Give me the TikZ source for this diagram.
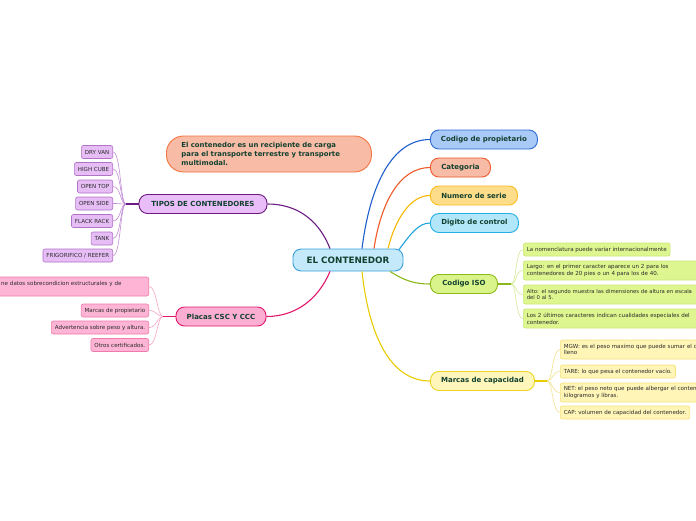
\documentclass[tikz,border=0pt]{standalone}
\usepackage{fontspec}
\setmainfont{DejaVu Sans}
\usetikzlibrary{calc}
\definecolor{tgreen}{HTML}{12402F}
\definecolor{leaftext}{HTML}{2A2A2A}
\definecolor{cenF}{HTML}{C3E9FA}\definecolor{cenD}{HTML}{3A9FD9}
\definecolor{tipF}{HTML}{E9BDF7}\definecolor{tipD}{HTML}{6B1A82}\definecolor{tipL}{HTML}{C28FD4}\definecolor{tipLF}{HTML}{E6BDF5}\definecolor{tipLD}{HTML}{B173C6}
\definecolor{plaF}{HTML}{FBAED1}\definecolor{plaD}{HTML}{E2176B}\definecolor{plaLF}{HTML}{FDB4D5}\definecolor{plaLD}{HTML}{F07AAA}\definecolor{plaL}{HTML}{F5A3C6}
\definecolor{notF}{HTML}{F8BCA6}\definecolor{notD}{HTML}{F4733E}
\definecolor{proF}{HTML}{A9C9F7}\definecolor{proD}{HTML}{2C6BD1}\definecolor{proC}{HTML}{1E5FCC}
\definecolor{catF}{HTML}{F8BBA6}\definecolor{catD}{HTML}{EF5A2C}\definecolor{catC}{HTML}{F05A28}
\definecolor{numF}{HTML}{FEDD8A}\definecolor{numD}{HTML}{F8BD1C}\definecolor{numC}{HTML}{F6B800}
\definecolor{digF}{HTML}{B2E6F9}\definecolor{digD}{HTML}{26AEE6}\definecolor{digC}{HTML}{1EA4E0}
\definecolor{isoF}{HTML}{D8F48B}\definecolor{isoD}{HTML}{8DBA1A}\definecolor{isoC}{HTML}{8AB81A}\definecolor{isoLF}{HTML}{DDF68F}\definecolor{isoLD}{HTML}{CDE87A}\definecolor{isoL}{HTML}{D4EA9A}
\definecolor{marF}{HTML}{FEF6BB}\definecolor{marD}{HTML}{EED520}\definecolor{marC}{HTML}{E8CC00}\definecolor{marLF}{HTML}{FFF5B7}\definecolor{marLD}{HTML}{F4E27A}\definecolor{marL}{HTML}{F2E28E}
\tikzset{
  mainnode/.style={draw, rounded corners=8.5pt, minimum height=19pt, inner xsep=10pt, inner ysep=0pt,
    font=\fontsize{7}{8}\selectfont\bfseries, text=tgreen, line width=0.9pt},
  leaf/.style={draw, rounded corners=2pt, minimum height=13pt, inner xsep=3.5pt, inner ysep=1.5pt,
    font=\fontsize{5.55}{6.8}\selectfont, text=leaftext, line width=0.6pt, align=left},
  wideleaf/.style={leaf, text width=193pt, minimum height=19pt},
  link/.style={line width=1.1pt},
  leaflink/.style={line width=0.6pt},
}
\begin{document}
\begin{tikzpicture}[x=1pt,y=-1pt]
\useasboundingbox (0,0) rectangle (696,520);
\clip (0,0) rectangle (696,520);
\fill[white] (0,0) rectangle (696,520);

% center
\node[draw=cenD, fill=cenF, rounded corners=8pt, minimum width=110pt, minimum height=22pt, line width=0.9pt,
  font=\fontsize{8.8}{10}\selectfont\bfseries, text=tgreen] (c) at (348,260) {EL CONTENEDOR};

% note
\node[draw=notD, fill=notF, rounded corners=17pt, line width=0.9pt, anchor=west, text width=175pt, inner xsep=15pt,
  minimum height=36pt, align=left, font=\fontsize{6.9}{8.7}\selectfont\bfseries, text=tgreen] (note) at (166,154)
  {El contenedor es un recipiente de carga\\para el transporte terrestre y transporte\\multimodal.};

% main nodes
\node[mainnode, draw=tipD, fill=tipF, minimum width=128pt] (tip) at (203,204) {TIPOS DE CONTENEDORES};
\node[mainnode, draw=plaD, fill=plaF, minimum width=90pt] (pla) at (221,316.5) {Placas CSC Y CCC};
\node[mainnode, draw=proD, fill=proF, anchor=west, minimum width=107pt] (pro) at (430,139.5) {Codigo de propietario};
\node[mainnode, draw=catD, fill=catF, anchor=west, minimum width=60pt] (cat) at (430,167.5) {Categoria};
\node[mainnode, draw=numD, fill=numF, anchor=west, minimum width=87pt] (num) at (430,195.5) {Numero de serie};
\node[mainnode, draw=digD, fill=digF, anchor=west, minimum width=88pt] (dig) at (430,223) {Digito de control};
\node[mainnode, draw=isoD, fill=isoF, anchor=west, minimum width=67pt] (iso) at (430,284) {Codigo ISO};
\node[mainnode, draw=marD, fill=marF, anchor=west, minimum width=104pt] (mar) at (430,381) {Marcas de capacidad};

% center connectors
\draw[link, draw=tipD] ($(c.north)+(-18,0)$) .. controls (318,218) and (295,204) .. (tip.east);
\draw[link, draw=plaD] ($(c.south)+(-18,0)$) .. controls (318,300) and (295,316.5) .. (pla.east);
\draw[link, draw=proC] ($(c.north)+(14,0)$) .. controls (370,185) and (392,139.5) .. (pro.west);
\draw[link, draw=catC] ($(c.north)+(26,0)$) .. controls (381,202) and (400,167.5) .. (cat.west);
\draw[link, draw=numC] ($(c.north)+(40,0)$) .. controls (395,220) and (410,195.5) .. (num.west);
\draw[link, draw=digC] ($(c.north)+(51,1)$) .. controls (410,235) and (418,223) .. (dig.west);
\draw[link, draw=isoC] ($(c.south)+(42,0)$) .. controls (405,281) and (415,284) .. (iso.west);
\draw[link, draw=marC] ($(c.south)+(14,0)$) .. controls (370,345) and (395,381) .. (mar.west);

% tipos children
\coordinate (jt) at (126,204);
\foreach \n/\y/\t in {dry/152/{DRY VAN}, hig/169/{HIGH CUBE}, opt/186.5/{OPEN TOP}, ops/203.5/{OPEN SIDE},
  fla/221/{FLACK RACK}, tan/238.5/{TANK}, fri/255.5/{FRIGORIFICO / REEFER}}{
  \node[leaf, draw=tipLD, fill=tipLF, anchor=east] (\n) at (113,\y) {\t};
  \draw[leaflink, draw=tipL] (\n.east) .. controls +(8,0) and +(-6,0) .. (jt);
}
\draw[link, draw=tipD] (jt) -- (tip.west);

% placas children
\coordinate (jp) at (163,316.5);
\node[leaf, draw=plaLD, fill=plaLF, anchor=east, minimum height=19pt, text width=144pt] (pl1) at (149,286.5)
  {ne datos sobrecondicion estructurales y de\\\mbox{}};
\node[leaf, draw=plaLD, fill=plaLF, anchor=east] (pl2) at (149,310.5) {Marcas de propietario};
\node[leaf, draw=plaLD, fill=plaLF, anchor=east] (pl3) at (149,327.5) {Advertencia sobre peso y altura.};
\node[leaf, draw=plaLD, fill=plaLF, anchor=east] (pl4) at (149,345) {Otros certificados.};
\foreach \n in {pl1,pl2,pl3,pl4}{
  \draw[leaflink, draw=plaL] (\n.east) .. controls +(8,0) and +(-6,0) .. (jp);
}
\draw[link, draw=plaD] (jp) -- (pla.west);

% ISO children
\coordinate (ji) at (511,284);
\node[leaf, draw=isoLD, fill=isoLF, anchor=west] (is1) at (523,249.5) {La nomenclatura puede variar internacionalmente};
\node[wideleaf, draw=isoLD, fill=isoLF, anchor=west] (is2) at (523,270.5)
  {Largo: en el primer caracter aparece un 2 para los\\contenedores de 20 pies o un 4 para los de 40.};
\node[wideleaf, draw=isoLD, fill=isoLF, anchor=west, font=\fontsize{5.3}{6.8}\selectfont] (is3) at (523,294.5)
  {Alto: el segundo muestra las dimensiones de altura en escala\\del 0 al 5.};
\node[wideleaf, draw=isoLD, fill=isoLF, anchor=west] (is4) at (523,318.5)
  {Los 2 últimos caracteres indican cualidades especiales del\\contenedor.};
\foreach \n in {is1,is2,is3,is4}{
  \draw[leaflink, draw=isoL] (ji) .. controls +(6,0) and +(-8,0) .. (\n.west);
}
\draw[link, draw=isoC] (iso.east) -- (ji);

% Marcas children
\coordinate (jm) at (547,381);
\node[wideleaf, draw=marLD, fill=marLF, anchor=west] (ma1) at (560,349.5)
  {MGW: es el peso maximo que puede sumar el c\\lleno};
\node[leaf, draw=marLD, fill=marLF, anchor=west] (ma2) at (560,371.5) {TARE: lo que pesa el contenedor vacío.};
\node[wideleaf, draw=marLD, fill=marLF, anchor=west] (ma3) at (560,392.5)
  {NET: el peso neto que puede albergar el conten\\kilogramos y libras.};
\node[leaf, draw=marLD, fill=marLF, anchor=west] (ma4) at (560,412.5) {CAP: volumen de capacidad del contenedor.};
\foreach \n in {ma1,ma2,ma3,ma4}{
  \draw[leaflink, draw=marL] (jm) .. controls +(6,0) and +(-8,0) .. (\n.west);
}
\draw[link, draw=marC] (mar.east) -- (jm);
\end{tikzpicture}
\end{document}
